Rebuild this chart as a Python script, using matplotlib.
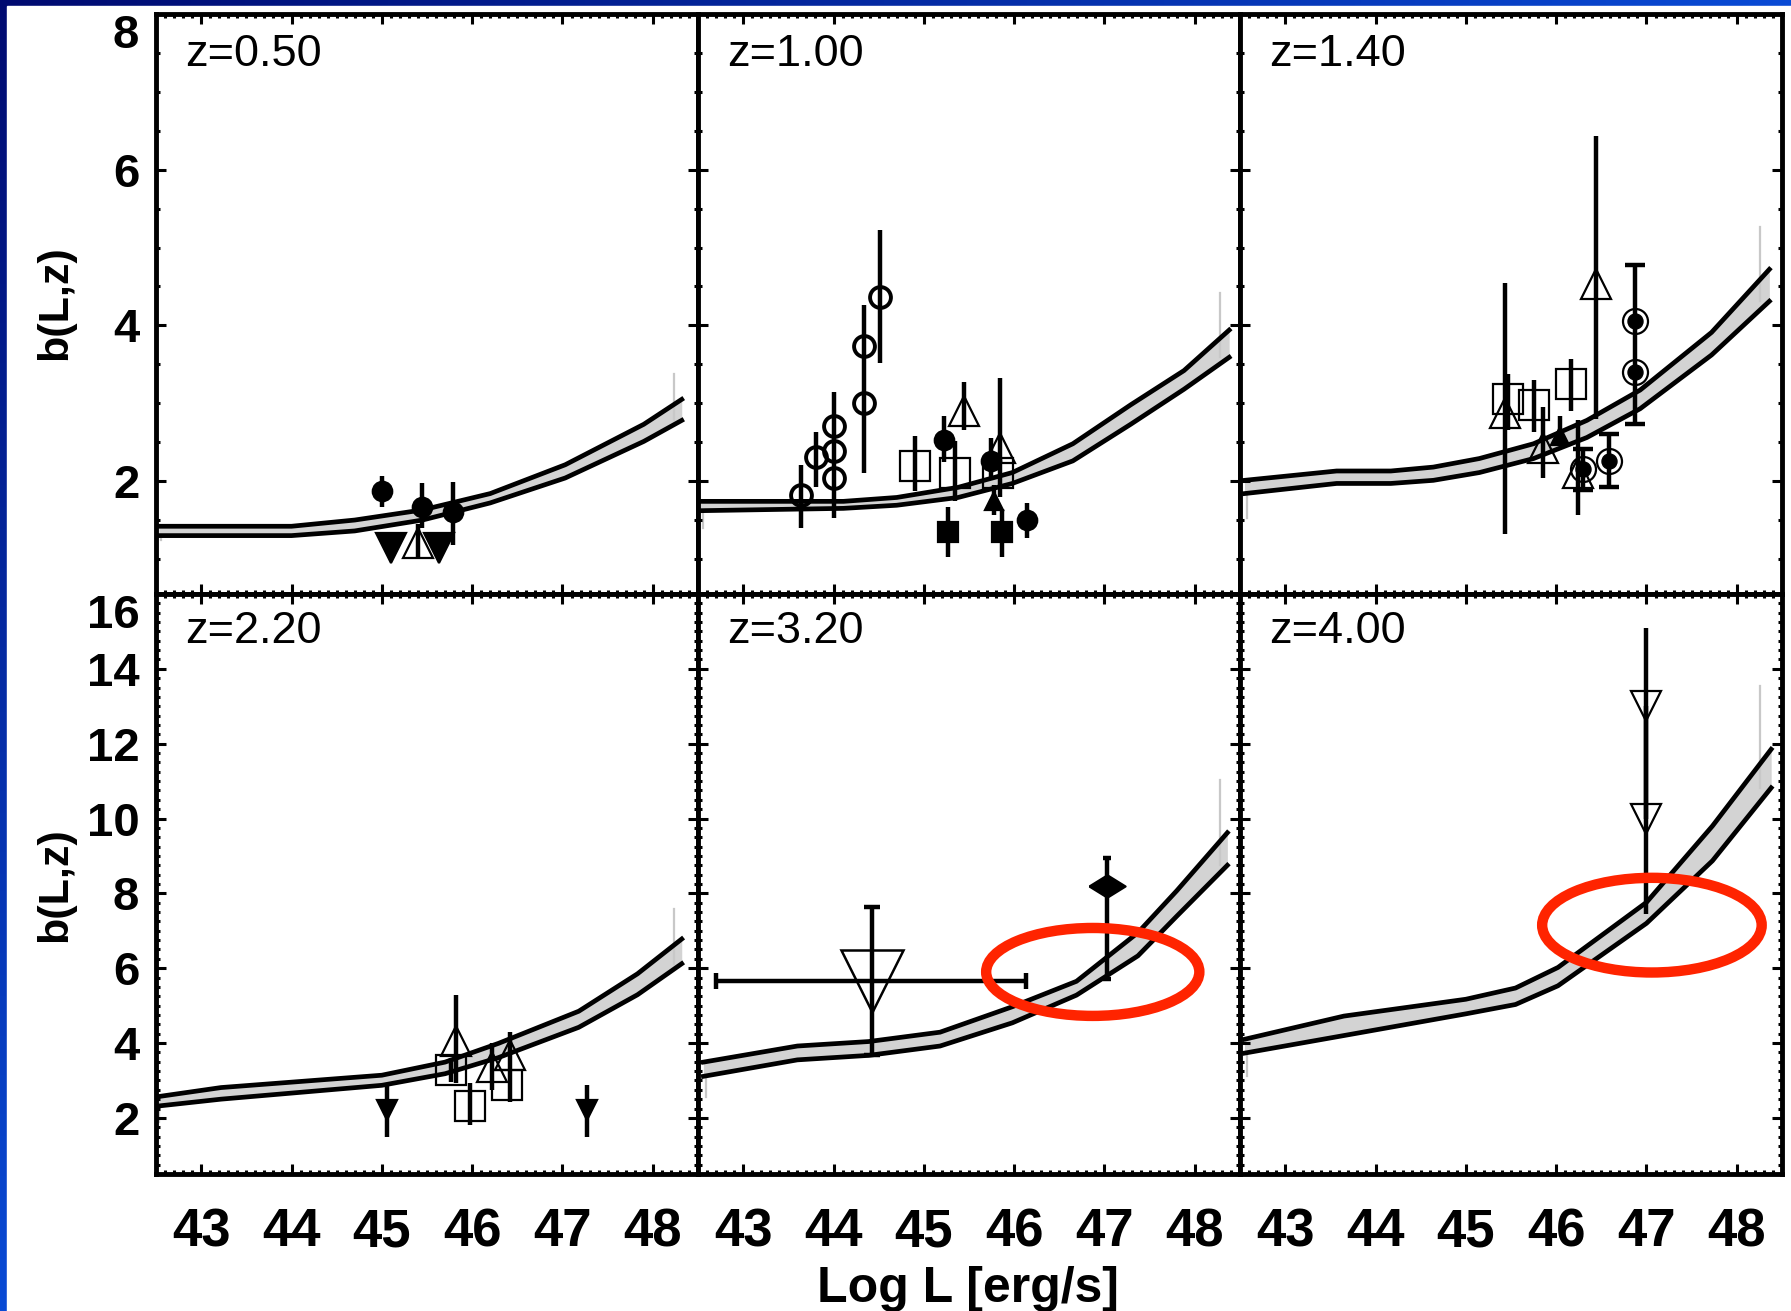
import numpy as np
import matplotlib
matplotlib.use('Agg')
import matplotlib.pyplot as plt
from matplotlib.patches import Ellipse, Rectangle
from matplotlib.ticker import MultipleLocator, FixedLocator

plt.rcParams['font.family'] = ['Liberation Sans', 'DejaVu Sans']

W, H = 1791, 1311

# redshift of each panel
redshifts = [0.50, 1.00, 1.40, 2.20, 3.20, 4.00]

# model band: log L grid, upper and lower edge of b(L,z)
band_L = [
    [42.53, 44.0, 44.7, 45.45, 46.2, 47.03, 47.9, 48.32],
    [42.52, 44.11, 44.7, 45.38, 45.98, 46.65, 47.29, 47.88, 48.38],
    [42.55, 43.57, 44.17, 44.64, 45.15, 45.75, 46.34, 46.93, 47.72, 48.36],
    [42.5, 43.22, 45.0, 45.7, 46.29, 47.18, 47.83, 48.32],
    [42.56, 43.6, 44.39, 45.18, 45.98, 46.69, 47.37, 47.8, 48.36],
    [42.55, 43.65, 45.0, 45.55, 46.02, 47.0, 47.73, 48.38],
]
band_hi = [
    [1.42, 1.42, 1.50, 1.63, 1.84, 2.21, 2.73, 3.05],
    [1.74, 1.74, 1.79, 1.92, 2.11, 2.48, 2.98, 3.42, 3.94],
    [2.01, 2.13, 2.13, 2.18, 2.29, 2.48, 2.78, 3.17, 3.91, 4.72],
    [2.56, 2.81, 3.14, 3.49, 3.99, 4.85, 5.85, 6.78],
    [3.49, 3.92, 4.04, 4.29, 4.97, 5.65, 6.95, 8.07, 9.62],
    [4.10, 4.72, 5.17, 5.47, 6.02, 7.76, 9.80, 11.85],
]
band_lo = [
    [1.30, 1.30, 1.36, 1.50, 1.72, 2.04, 2.51, 2.78],
    [1.62, 1.65, 1.69, 1.79, 1.97, 2.26, 2.73, 3.18, 3.59],
    [1.84, 1.97, 1.97, 2.01, 2.11, 2.29, 2.56, 2.93, 3.62, 4.31],
    [2.31, 2.50, 2.87, 3.18, 3.61, 4.42, 5.29, 6.12],
    [3.11, 3.55, 3.67, 3.92, 4.54, 5.28, 6.33, 7.39, 8.75],
    [3.73, 4.20, 4.78, 5.03, 5.53, 7.20, 8.87, 10.82],
]
# thin grey edges of the band polygon
band_edge_right_L = [48.23, 48.28, 48.26, 48.23, 48.28, 48.26]
band_edge_right_top = [3.37, 4.41, 5.27, 7.58, 11.04, 13.54]
band_edge_left_bottom = [1.25, 1.40, 1.52, 1.88, 2.56, 3.11]

# measurements: (log L, b, b_low, b_high); None = no error bar
z050_filled_circle = [(45.0, 1.87, 1.67, 2.06), (45.45, 1.67, 1.40, 1.97), (45.79, 1.60, 1.18, 1.99)]
z050_filled_down = [(45.1, 1.14, None, None), (45.63, 1.14, None, None)]
z050_open_tri = [(45.40, 1.20, 1.00, 1.45)]

z100_open_circle = [(43.64, 1.82, 1.40, 2.21), (43.81, 2.31, 1.92, 2.63), (44.0, 2.71, 1.52, 3.15),
                    (44.0, 2.39, None, None), (44.0, 2.04, None, None), (44.34, 3.73, 2.11, 4.26),
                    (44.34, 3.00, None, None), (44.51, 4.37, 3.52, 5.22)]
z100_open_square = [(44.90, 2.19, 1.87, 2.58), (45.35, 2.11, 1.74, 2.51), (45.82, 2.11, None, None)]
z100_filled_circle = [(45.22, 2.53, 2.24, 2.83), (46.14, 1.50, 1.27, 1.72), (45.74, 2.26, 2.04, 2.56)]
z100_open_tri = [(45.44, 2.90, 2.66, 3.27), (45.84, 2.43, 1.79, 3.33)]
z100_filled_square = [(45.27, 1.35, 1.03, 1.67), (45.87, 1.35, 1.03, 1.64)]
z100_filled_tri = [(45.78, 1.74, 1.57, 1.95)]

z140_open_tri = [(45.43, 2.88, 1.32, 4.55), (45.85, 2.43, 2.04, 2.95),
                 (46.24, 2.11, 1.57, 2.78), (46.44, 4.53, 2.80, 6.43)]
z140_open_square = [(45.47, 3.05, 2.66, 3.37), (45.75, 2.98, 2.63, 3.30), (46.16, 3.25, 2.90, 3.57)]
z140_filled_tri = [(46.04, 2.58, 2.46, 2.83)]
z140_dot_circle = [(46.30, 2.16, 1.89, 2.41), (46.58, 2.26, 1.92, 2.61),
                   (46.87, 4.06, 2.73, 4.78), (46.87, 3.40, None, None)]

z220_arrow = [(45.06, 2.22, 1.50, 2.87), (47.27, 2.22, 1.50, 2.87)]
z220_open_tri = [(45.82, 4.05, 2.93, 5.29), (46.22, 3.36, 2.74, 3.99), (46.42, 3.67, 2.43, 4.30)]
z220_open_square = [(45.77, 3.27, 2.95, 3.60), (45.98, 2.31, 1.81, 2.93), (46.39, 2.87, None, None)]

z320_big_down = [(44.43, 5.65, 3.67, 7.63)]
z320_big_down_Lrange = [(42.70, 46.13)]
z320_diamond = [(47.03, 8.20, 5.72, 8.95)]

z400_open_down = [(47.0, 13.0, 10.0, 15.1), (47.0, 10.0, 7.45, 13.0)]

# highlighted regions (centre L, centre b, width, height)
circled = {4: (46.87, 5.90, 2.36, 2.35), 5: (47.06, 7.15, 2.43, 2.53)}

xticks = [43, 44, 45, 46, 47, 48]
yticks_top = [2, 4, 6, 8]
yticks_bottom = [2, 4, 6, 8, 10, 12, 14, 16]

flat_diamond = [(-1, 0), (0, 0.62), (1, 0), (0, -0.62), (-1, 0)]


def draw(ax, pts, marker, ms, filled, mew=1.6, capsize=0, dot=False):
    for L, b, lo, hi in pts:
        if lo is not None:
            ax.errorbar([L], [b], yerr=[[b - lo], [hi - b]], fmt='none', ecolor='k',
                        elinewidth=3.2, capsize=capsize, capthick=3.2, zorder=3)
        ax.plot([L], [b], ls='none', marker=marker, ms=ms, mec='k', mew=mew,
                mfc='k' if filled else 'none', zorder=4)
        if dot:
            ax.plot([L], [b], ls='none', marker='o', ms=ms * 0.6, mfc='k', mec='k', zorder=5)


fig = plt.figure(figsize=(W / 100, H / 100), dpi=100)

# blue slide background with white plot area
bg = fig.add_axes([0, 0, 1, 1], zorder=-5)
gx, gy = np.meshgrid(np.linspace(0, 1, 300), np.linspace(0, 1, 300))
t = np.clip(0.9 * gx + 0.9 * gy, 0, 1)[..., None]
navy = np.array([0.0, 0.04, 0.44])
blue = np.array([0.04, 0.32, 0.88])
bg.imshow(navy * (1 - t) + blue * t, extent=[0, 1, 0, 1], aspect='auto')
bg.add_patch(Rectangle((7 / W, 0), 1, 1 - 6 / H, color='white'))
bg.set_xlim(0, 1)
bg.set_ylim(0, 1)
bg.axis('off')

axes = fig.subplots(2, 3, sharex=True)
fig.subplots_adjust(left=156 / W, right=1782 / W, top=1 - 14 / H, bottom=1 - 1174 / H,
                    wspace=0, hspace=0)
axes = axes.ravel()

for i, ax in enumerate(axes):
    row, col = divmod(i, 3)
    L = band_L[i]
    ax.fill_between(L, band_lo[i], band_hi[i], color='#d3d3d3', lw=0, zorder=1)
    ax.plot(L, band_hi[i], color='k', lw=3.4, zorder=2)
    ax.plot(L, band_lo[i], color='k', lw=3.4, zorder=2)
    ax.plot([band_edge_right_L[i]] * 2, [band_lo[i][-1], band_edge_right_top[i]],
            color='#c8c8c8', lw=1.6, zorder=1)
    ax.plot([L[0] + 0.03] * 2, [band_edge_left_bottom[i], band_lo[i][0]],
            color='#c8c8c8', lw=1.6, zorder=1)

    ax.set_xlim(42.5, 48.5)
    ax.xaxis.set_major_locator(FixedLocator(xticks))
    ax.xaxis.set_minor_locator(MultipleLocator(0.1))
    if row == 0:
        ax.set_ylim(0.55, 8)
        ax.yaxis.set_major_locator(FixedLocator(yticks_top))
        ax.yaxis.set_minor_locator(MultipleLocator(0.5))
    else:
        ax.set_ylim(0.5, 16)
        ax.yaxis.set_major_locator(FixedLocator(yticks_bottom))
        ax.yaxis.set_minor_locator(MultipleLocator(0.25))

    ax.tick_params(which='both', direction='in', top=True, right=True)
    ax.tick_params(which='major', length=7, width=2.2)
    ax.tick_params(which='minor', length=3, width=2.2)
    ax.tick_params(axis='x', labelsize=38, pad=24)
    ax.tick_params(axis='y', labelsize=34, pad=12)
    for s in ax.spines.values():
        s.set_linewidth(3.5)
    for lab in ax.get_xticklabels() + ax.get_yticklabels():
        lab.set_fontweight('bold')
    if col > 0:
        ax.tick_params(axis='y', labelleft=False)
    else:
        ax.get_yticklabels()[-1].set_verticalalignment('top')

    ax.text(0.054, 0.93 if row == 0 else 0.936, f"z={redshifts[i]:.2f}",
            transform=ax.transAxes, fontsize=32.5, va='center', ha='left')

    if i in circled:
        cx, cy, ew, eh = circled[i]
        ax.add_patch(Ellipse((cx, cy), ew, eh, fill=False, ec='#ff2400', lw=7.5,
                             clip_on=False, zorder=6))

a = axes
draw(a[0], z050_filled_circle, 'o', 14, True)
draw(a[0], z050_filled_down, 'v', 21, True)
draw(a[0], z050_open_tri, '^', 22, False)

draw(a[1], z100_open_circle, 'o', 15, False, mew=2.8)
draw(a[1], z100_open_square, 's', 22, False)
draw(a[1], z100_filled_circle, 'o', 14, True)
draw(a[1], z100_open_tri, '^', 22, False)
draw(a[1], z100_filled_square, 's', 15, True)
draw(a[1], z100_filled_tri, '^', 13, True)

draw(a[2], z140_open_tri, '^', 22, False)
draw(a[2], z140_open_square, 's', 22, False)
draw(a[2], z140_filled_tri, '^', 13, True)
draw(a[2], z140_dot_circle, 'o', 18, False, capsize=7, dot=True)

draw(a[3], z220_arrow, 'v', 15, True)
draw(a[3], z220_open_tri, '^', 22, False)
draw(a[3], z220_open_square, 's', 22, False)

for (L, b, lo, hi), (xl, xh) in zip(z320_big_down, z320_big_down_Lrange):
    a[4].errorbar([L], [b], xerr=[[L - xl], [xh - L]], yerr=[[b - lo], [hi - b]], fmt='none',
                  ecolor='k', elinewidth=3.2, capsize=6, capthick=3.2, zorder=3)
    a[4].plot([L], [b], ls='none', marker='v', ms=44, mfc='none', mec='k', mew=1.8, zorder=4)
draw(a[4], z320_diamond, flat_diamond, 26, True, capsize=3)

draw(a[5], z400_open_down, 'v', 22, False)

fig.text(968 / W, 1 - 1289 / H, 'Log L [erg/s]', fontsize=36, fontweight='bold',
         ha='center', va='center')
fig.text(55 / W, 1 - 303 / H, 'b(L,z)', fontsize=31, fontweight='bold',
         rotation=90, ha='center', va='center')
fig.text(55 / W, 1 - 885 / H, 'b(L,z)', fontsize=31, fontweight='bold',
         rotation=90, ha='center', va='center')

fig.savefig('out.png', dpi=100)
